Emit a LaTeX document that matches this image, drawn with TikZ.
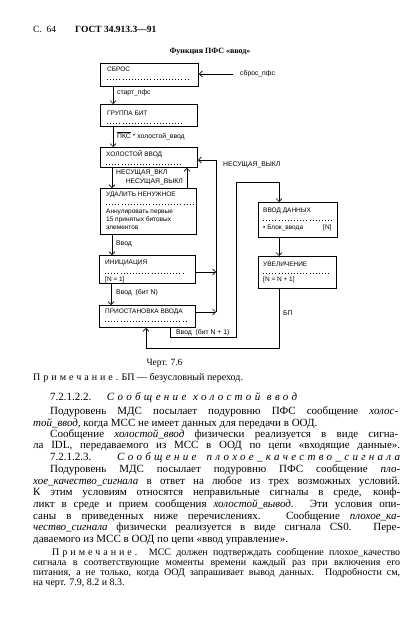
\documentclass[tikz,border=0pt]{standalone}
\usepackage{fontspec}
\setmainfont{Liberation Serif}
\newfontfamily\dsans{Liberation Sans}
\newfontfamily\spser[LetterSpace=30]{Liberation Serif}
\newfontfamily\spita[LetterSpace=30]{Liberation Serif Italic}
\usetikzlibrary{arrows.meta}
\begin{document}
\begin{tikzpicture}[x=1pt,y=-1pt,
 box/.style={draw,line width=0.9pt,anchor=north west,inner sep=0},
 conn/.style={line width=0.6pt,-{Straight Barb[length=3pt,width=6pt]}},
 wire/.style={line width=0.6pt},
 dl/.style={line width=0.5pt,dash pattern=on 0.5pt off 2.6pt},
 dt/.style={font=\dsans\fontsize{6.5}{7.5}\selectfont,inner sep=0,anchor=west},
 lb/.style={font=\dsans\fontsize{6.8}{8}\selectfont,inner sep=0,anchor=west},
 lbe/.style={lb,anchor=east},
 body/.style={font=\fontsize{11}{13}\selectfont,inner sep=0,anchor=west},
 note/.style={font=\fontsize{10}{11}\selectfont,inner sep=0,anchor=west}]
\fill[white] (0,0) rectangle (420,626);
\useasboundingbox (0,0) rectangle (420,626);

% header
\node[body,font=\fontsize{9.5}{11}\selectfont] (pg) at (33,29) {С.\ \ 64};
\node[body,font=\fontsize{9.5}{11}\selectfont\bfseries] (gost) at (75,29) {ГОСТ 34.913.3—91};
\node[inner sep=0,font=\fontsize{8}{10}\selectfont\bfseries] (ttl) at (210,52) {Функция ПФС «ввод»};

% boxes
\node[box,minimum width=98pt,minimum height=23pt] (sbros) at (100,63) {};
\node[box,minimum width=97pt,minimum height=22pt] (gruppa) at (100,104) {};
\node[box,minimum width=97pt,minimum height=20pt] (holost) at (100,147) {};
\node[box,minimum width=96pt,minimum height=46pt] (udalit) at (100,188) {};
\node[box,minimum width=96pt,minimum height=28pt] (init) at (99,255) {};
\node[box,minimum width=96pt,minimum height=22pt] (prio) at (99,305) {};
\node[box,minimum width=79pt,minimum height=35pt] (vvod) at (258,202) {};
\node[box,minimum width=78pt,minimum height=32pt] (uvel) at (258,256) {};

% box contents
\node[dt] (sbrosT) at (107,69) {СБРОС};
\draw[dl] (107,79) -- (190,79);
\node[dt] (gruppaT) at (107,113) {ГРУППА БИТ};
\draw[dl] (107,123) -- (182,123);
\node[dt] (holostT) at (106,154) {ХОЛОСТОЙ ВВОД};
\draw[dl] (106,164) -- (182,164);
\node[dt] (udalitT) at (106,195) {УДАЛИТЬ НЕНУЖНОЕ};
\draw[dl] (106,204) -- (194,204);
\node[dt] (udalit1) at (106,212) {Аннулировать первые};
\node[dt] (udalit2) at (106,220) {15 принятых битовых};
\node[dt] (udalit3) at (106,228) {элементов};
\node[dt] (initT) at (105,263) {ИНИЦИАЦИЯ};
\draw[dl] (105,273) -- (185,273);
\node[dt] (init1) at (105,280) {[N = 1]};
\node[dt] (prioT) at (105,312) {ПРИОСТАНОВКА ВВОДА};
\draw[dl] (105,321) -- (187,321);
\node[dt] (vvodT) at (263,211) {ВВОД ДАННЫХ};
\draw[dl] (263,220) -- (333,220);
\node[dt] (vvod1) at (263,228) {• Блок\_ввода};
\node[dt] (vvod2) at (323,228) {[N]};
\node[dt] (uvelT) at (263,264) {УВЕЛИЧЕНИЕ};
\draw[dl] (263,273) -- (330,273);
\node[dt] (uvel1) at (263,280) {[N = N + 1]};

% connectors
\coordinate (sin) at (233,74);
\draw[conn] (sin) -- (sin -| sbros.east);
\node[lb] (sinL) at (240,74) {сброс\_пфс};

\draw[conn] ([xshift=13pt]sbros.south west) -- ([xshift=13pt]sbros.south west |- gruppa.north);
\node[lb] (l1) at (117,93) {старт\_пфс};
\draw[conn] ([xshift=13pt]gruppa.south west) -- ([xshift=13pt]gruppa.south west |- holost.north);
\node[lb] (l2) at (117,136) {$\overline{\mbox{\dsans ПКС}}$ * холостой\_ввод};
\draw[conn] ([xshift=12pt]holost.south west) -- ([xshift=12pt]holost.south west |- udalit.north);
\node[lb] (l3) at (116,173) {НЕСУЩАЯ\_ВКЛ};
\draw[conn] ([xshift=87pt]udalit.north west) -- ([xshift=87pt]udalit.north west |- holost.south);
\node[lbe] (l4) at (183,182) {НЕСУЩАЯ\_ВЫКЛ};
\draw[conn] ([xshift=12pt]udalit.south west) -- ([xshift=12pt]udalit.south west |- init.north);
\node[lb] (l5) at (116,244) {Ввод};
\draw[conn] ([xshift=12pt]init.south west) -- ([xshift=12pt]init.south west |- prio.north);
\node[lb] (l6) at (116,293) {Ввод\ \ (бит N)};

\coordinate (m1) at (216,272);
\coordinate (m2) at (216,312);
\coordinate (m3) at (216,160);
\draw[conn] (m1 -| init.east) -- (m1);
\draw[conn] (m2 -| prio.east) -- (m2);
\draw[conn] (m2) -- (m3) -- (m3 -| holost.east);
\node[lb] (l7) at (223,165) {НЕСУЩАЯ\_ВЫКЛ};

\coordinate (b1) at (170,337);
\coordinate (b2) at (236,337);
\coordinate (b3) at (236,182);
\coordinate (b4) at (279,182);
\draw[conn] (b1 |- prio.south) -- (b1) -- (b2) -- (b3) -- (b4) -- (b4 |- vvod.north);
\node[lb] (l8) at (176,332.5) {Ввод\ \ (бит N + 1)};
\draw[conn] (b4 |- vvod.south) -- (b4 |- uvel.north);

\coordinate (c1) at (279,348);
\coordinate (c2) at (146,348);
\draw[conn] (c1 |- uvel.south) -- (c1) -- (c2) -- (c2 |- prio.south);
\node[lb] (l9) at (283,313) {БП};

% caption and text
\node[inner sep=0,font=\fontsize{9.5}{11}\selectfont] (cap) at (164.5,363) {Черт. 7.6};
\node[note] (n0) at (33,378) {{\spser Примечание.} БП — безусловный переход.};

\node[body] (t1) at (50,398) {\makebox[247pt][s]{7.2.1.2.2. {\spita Сообщение} {\spita холостой} {\spita ввод}}};
\node[body] (t2) at (50,412) {\makebox[348pt][s]{Подуровень МДС посылает подуровню ПФС сообщение \textit{холос-}}};
\node[body] (t3) at (33,423.5) {\textit{той\_ввод}, когда МСС не имеет данных для передачи в ООД.};
\node[body] (t4) at (50,435) {\makebox[348pt][s]{Сообщение \textit{холостой\_ввод} физически реализуется в виде сигна-}};
\node[body] (t5) at (33,446) {\makebox[367pt][s]{ла IDL, передаваемого из МСС в ООД по цепи «входящие данные».}};
\node[body] (t6) at (50,457.5) {\makebox[350pt][s]{7.2.1.2.3. {\spita Сообщение} {\spita плохое\_качество\_сигнала}}};
\node[body] (t7) at (50,470) {\makebox[350pt][s]{Подуровень МДС посылает подуровню ПФС сообщение \textit{пло-}}};
\node[body] (t8) at (33,481.5) {\makebox[367pt][s]{\textit{хое\_качество\_сигнала} в ответ на любое из трех возможных условий.}};
\node[body] (t9) at (33,493) {\makebox[367pt][s]{К этим условиям относятся неправильные сигналы в среде, конф-}};
\node[body] (t10) at (33,505) {\makebox[367pt][s]{ликт в среде и прием сообщения \textit{холостой\_вывод}. Эти условия опи-}};
\node[body] (t11) at (33,516.5) {\makebox[367pt][s]{саны в приведенных ниже перечислениях. Сообщение \textit{плохое\_ка-}}};
\node[body] (t12) at (33,528) {\makebox[367pt][s]{\textit{чество\_сигнала} физически реализуется в виде сигнала CS0. Пере-}};
\node[body] (t13) at (33,540) {даваемого из МСС в ООД по цепи «ввод управление».};

\node[note] (n1) at (52,553) {\makebox[348pt][s]{{\spser Примечание.} МСС должен подтверждать сообщение плохое\_качество}};
\node[note] (n2) at (33,563) {\makebox[367pt][s]{сигнала в соответствующие моменты времени каждый раз при включения его}};
\node[note] (n3) at (33,573) {\makebox[367pt][s]{питания, а не только, когда ООД запрашивает вывод данных. Подробности см,}};
\node[note] (n4) at (33,583) {на черт. 7.9, 8.2 и 8.3.};
\end{tikzpicture}
\end{document}
